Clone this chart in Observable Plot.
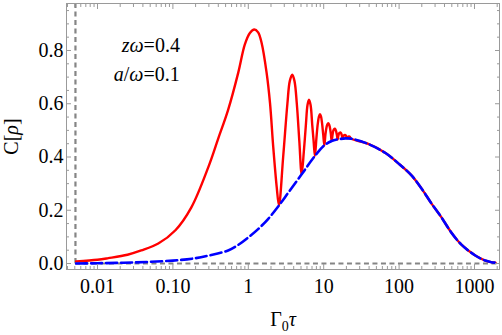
<!DOCTYPE html>
<html><head><meta charset="utf-8">
<script src="https://cdn.jsdelivr.net/npm/d3@7"></script>
<script src="https://cdn.jsdelivr.net/npm/@observablehq/plot@0.6"></script>
<style>
html,body{margin:0;padding:0;background:#fff}
svg{display:block}
#note{height:0;overflow:hidden;font:1px 'Liberation Serif'}
</style>
</head><body><div id="chart"></div><div id="note"></div>
<script>
// ---- data ----
const redX = [0.0052,0.01,0.0139,0.025,0.038,0.064,0.108,0.175,0.295,0.4,0.54,0.736,0.9,1.05,1.2,1.35,1.5,1.75,1.94,2.14,2.38,2.55,
  2.9,3.3,3.55,3.83,4.1,4.4,4.75,5.1,
  5.45,5.8,6.1,6.38,6.7,7.05,7.35,7.65,
  8.0,8.35,8.65,8.93,9.2,9.5,9.85,10.2,
  10.55,10.9,11.2,11.48,11.8,12.1,12.45,12.75,
  13.1,13.45,13.75,14.03,14.3,14.6,14.95,15.3,
  15.65,16.0,16.3,16.58,16.9,17.2,17.5,17.85,
  18.2,18.55,19.13,19.7,20.05,20.4,
  20.8,21.3,21.68,22.1,22.5,22.95,
  39,66,97,145,197,268,363,491,665,1025,1390,1670,1900];
const redY = [0.008,0.014,0.02,0.033,0.049,0.075,0.125,0.21,0.362,0.47,0.577,0.717,0.823,0.866,0.879,0.868,0.829,0.716,0.603,0.439,0.288,0.218,
  0.40,0.60,0.685,0.709,0.685,0.60,0.46,0.335,
  0.42,0.52,0.595,0.615,0.595,0.52,0.46,0.404,
  0.47,0.525,0.552,0.561,0.553,0.528,0.485,0.444,
  0.485,0.512,0.523,0.527,0.522,0.51,0.487,0.46,
  0.483,0.50,0.505,0.506,0.504,0.497,0.483,0.466,
  0.48,0.489,0.491,0.492,0.49,0.486,0.478,0.469,
  0.476,0.481,0.483,0.481,0.476,0.470,
  0.474,0.477,0.477,0.476,0.473,0.469,
  0.449,0.415,0.377,0.332,0.283,0.226,0.174,0.117,0.072,0.030,0.011,0.005,0.003];
const blueX = [0.0052,0.01,0.03,0.1,0.2,0.3,0.54,0.736,1.0,1.36,1.84,2.55,3.39,5.1,7.65,10.2,12.75,15.3,19.5,23,39,66,97,145,197,268,363,491,665,1025,1390,1670,1900];
const blueY = [0,0.001,0.004,0.011,0.02,0.03,0.049,0.07,0.098,0.13,0.168,0.218,0.266,0.335,0.404,0.444,0.46,0.466,0.47,0.469,0.449,0.415,0.377,0.332,0.283,0.226,0.174,0.117,0.072,0.030,0.011,0.005,0.003];

const xMajorTicks = [0.01,0.1,1,10,100,1000];
const xMajorLabels = ["0.01","0.10","1","10","100","1000"];
const xMinorTicks = [0.004,0.005,0.006,0.007,0.008,0.009,
  0.02,0.03,0.04,0.05,0.06,0.07,0.08,0.09,
  0.2,0.3,0.4,0.5,0.6,0.7,0.8,0.9,
  2,3,4,5,6,7,8,9,
  20,30,40,50,60,70,80,90,
  200,300,400,500,600,700,800,900,2000];
const yMajorTicks = [0,0.2,0.4,0.6,0.8];
const yMajorLabels = ["0.0","0.2","0.4","0.6","0.8"];
const yMinorTicks = [0.05,0.1,0.15,0.25,0.3,0.35,0.45,0.5,0.55,0.65,0.7,0.75,0.85,0.9,0.95];
const asymptoteX = [0.0051];
const baselineY = [0];
const yTitle = "C[ρ]";
const xTitle = "Γ0τ";
const note1 = "zω=0.4";
const note2 = "a/ω=0.1";

const xDomain = [0.00388, 2146];
const yDomain = [-0.0225, 0.9765];

const redData = redX.map((x, i) => ({x, y: redY[i]}));
const blueData = blueX.map((x, i) => ({x, y: blueY[i]}));

const frameGray = "#9a9a9a";
const dashGray = "#858585";
const serif = "Liberation Serif, Times New Roman, Times, serif";
const fs = 20;

const svg = Plot.plot({
  width: 502, height: 335,
  marginLeft: 66, marginRight: 3, marginTop: 3, marginBottom: 66,
  x: {type: "log", domain: xDomain, axis: null},
  y: {domain: yDomain, axis: null},
  marks: [
    Plot.ruleY(baselineY, {x1: asymptoteX[0], x2: xDomain[1], stroke: dashGray, strokeWidth: 2.2, strokeDasharray: "5,3.5"}),
    Plot.ruleX(asymptoteX, {y1: 0, y2: yDomain[1], stroke: dashGray, strokeWidth: 2.2, strokeDasharray: "5,3.5"}),
    Plot.line(redData, {x: "x", y: "y", stroke: "#ff0000", strokeWidth: 2.4, curve: "catmull-rom"}),
    Plot.line(blueData, {x: "x", y: "y", stroke: "#0000ff", strokeWidth: 2.6, strokeDasharray: "11,4", curve: "catmull-rom"}),
    Plot.frame({stroke: frameGray}),
    // inward ticks
    Plot.axisX(xMajorTicks, {anchor: "bottom", tickSize: 5, dy: -5, fill: "none", stroke: frameGray, label: null}),
    Plot.axisX(xMinorTicks, {anchor: "bottom", tickSize: 3, dy: -3, fill: "none", stroke: frameGray, label: null}),
    Plot.axisX(xMajorTicks, {anchor: "top", tickSize: 5, dy: 5, fill: "none", stroke: frameGray, label: null}),
    Plot.axisX(xMinorTicks, {anchor: "top", tickSize: 3, dy: 3, fill: "none", stroke: frameGray, label: null}),
    Plot.axisY(yMajorTicks, {anchor: "left", tickSize: 5, dx: 5, fill: "none", stroke: frameGray, label: null}),
    Plot.axisY(yMinorTicks, {anchor: "left", tickSize: 3, dx: 3, fill: "none", stroke: frameGray, label: null}),
    Plot.axisY(yMajorTicks, {anchor: "right", tickSize: 5, dx: -5, fill: "none", stroke: frameGray, label: null}),
    Plot.axisY(yMinorTicks, {anchor: "right", tickSize: 3, dx: -3, fill: "none", stroke: frameGray, label: null}),
    // tick labels
    Plot.axisX(xMajorTicks, {anchor: "bottom", tickSize: 0, tickPadding: 9, fontSize: fs, fontFamily: serif, fill: "black",
      tickFormat: d => xMajorLabels[xMajorTicks.indexOf(d)], label: null}),
    Plot.axisY(yMajorTicks, {anchor: "left", tickSize: 0, tickPadding: 3, fontSize: fs, fontFamily: serif, fill: "black",
      tickFormat: d => yMajorLabels[yMajorTicks.indexOf(d)], label: null}),
    // axis titles and annotations
    Plot.text([yTitle], {frameAnchor: "left", dx: -55, rotate: -90, fontSize: fs, fontFamily: serif, fill: "black", textAnchor: "middle", lineAnchor: "middle"}),
    Plot.text([xTitle], {frameAnchor: "bottom", dy: 50, fontSize: fs, fontFamily: serif, fill: "black", textAnchor: "middle", lineAnchor: "middle"}),
    Plot.text([note1], {x: 0.0509, y: 0.819, fontSize: fs, fontFamily: serif, fill: "black", textAnchor: "middle", lineAnchor: "middle"}),
    Plot.text([note2], {x: 0.045, y: 0.709, fontSize: fs, fontFamily: serif, fill: "black", textAnchor: "middle", lineAnchor: "middle"})
  ]
});

function rich(content, parts) {
  const node = Array.from(svg.querySelectorAll("text")).find(n => n.textContent === content);
  if (!node) return;
  const t = d3.select(node);
  t.text(null);
  for (const p of parts) {
    const s = t.append("tspan").text(p.t);
    if (p.i) s.attr("font-style", "italic");
    if (p.fs) s.attr("font-size", p.fs);
    if (p.dy) s.attr("dy", p.dy);
  }
}
rich(yTitle, [{t: "C["}, {t: "ρ", i: true}, {t: "]"}]);
rich(xTitle, [{t: "Γ"}, {t: "0", fs: 14, dy: 5}, {t: "τ", i: true, dy: -5}]);
rich(note1, [{t: "z", i: true}, {t: "ω", i: true}, {t: "=0.4"}]);
rich(note2, [{t: "a", i: true}, {t: "/"}, {t: "ω", i: true}, {t: "=0.1"}]);

document.getElementById("chart").appendChild(svg);
</script>
</body></html>
